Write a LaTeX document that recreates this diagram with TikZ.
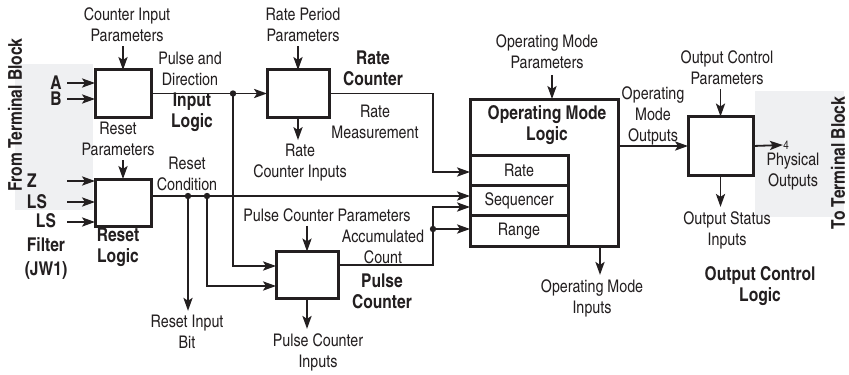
\documentclass[tikz,border=0pt]{standalone}
\usepackage{fontspec}
\setmainfont{texgyreheroscn}[Extension=.otf,UprightFont=*-regular,BoldFont=*-bold]
\usetikzlibrary{positioning,calc,arrows.meta}
\definecolor{termgray}{RGB}{239,240,242}
\definecolor{ink}{RGB}{35,31,32}

\begin{document}
\begin{tikzpicture}[x=0.5pt,y=-0.5pt, color=ink,
		blk/.style={draw, line width=1.5pt, outer sep=0pt, inner sep=0pt, minimum width=28pt, minimum height=23.5pt},
		cell/.style={draw, line width=1.5pt, outer sep=0pt, inner sep=0pt, minimum width=49pt, minimum height=15.2pt, font=\fontsize{8.7}{10.5}\selectfont},
		lbl/.style={align=center, inner sep=0pt, font=\fontsize{8.7}{10.5}\selectfont},
		blbl/.style={align=center, inner sep=0pt, font=\fontsize{9.5}{10.5}\selectfont\bfseries},
		conn/.style={line width=0.9pt, -{Stealth[length=6.5pt,width=4.6pt,inset=1.5pt]}},
		wire/.style={line width=0.9pt}]
		\useasboundingbox (0,0) rectangle (849,374);
		\fill[termgray] (15,64) rectangle (93,210);
		\fill[termgray] (755,91) rectangle (844,217);
		
		% blocks
		\node[blk] (inlog) at (123,93.5) {};
		\node[blk] (reslog) at (123,202.5) {};
		\node[blk, minimum width=31pt] (ratec) at (298,93.5) {};
		\node[blk, minimum width=31pt] (pulsec) at (307,275) {};
		\node[blk, minimum width=32.5pt, minimum height=29.5pt] (outc) at (720.5,146) {};
		\node[blk, minimum width=74pt, minimum height=73.5pt] (om) at (544,172.5) {};
		\node[cell, anchor=north west] (ratecell) at ($(om.north west)+(0,56)$) {Rate};
		\node[cell, below=0pt of ratecell] (seqcell) {Sequencer};
		\node[cell, below=0pt of seqcell] (rngcell) {Range};
		
		% texts
		\node[blbl, rotate=90] (ftb) at (15,115) {From Terminal Block};
		\node[blbl, rotate=90] (ttb) at (838,163) {To Terminal Block};
		\node[blbl] (a) at (56,83) {A};
		\node[blbl] (b) at (56,99) {B};
		\node[blbl] (z) at (32,181) {Z};
		\node[blbl] (ls) at (37,202) {LS};
		\node[blbl, font=\fontsize{9.5}{12}\selectfont\bfseries] (lsf) at (46,246) {LS\\Filter\\(JW1)};
		\node[lbl] (cip) at (127,25) {Counter Input\\Parameters};
		\node[lbl] (pad) at (190,69) {Pulse and\\Direction};
		\node[blbl] (inlbl) at (192,112) {Input\\Logic};
		\node[lbl] (rsp) at (118,139) {Reset\\Parameters};
		\node[lbl] (rsc) at (187,174) {Reset\\Condition};
		\node[blbl] (rslbl) at (118,247) {Reset\\Logic};
		\node[lbl] (rib) at (187,332) {Reset Input\\Bit};
		\node[lbl] (rpp) at (303,25) {Rate Period\\Parameters};
		\node[blbl] (rclbl) at (373,68) {Rate\\Counter};
		\node[lbl] (rm) at (375,122) {Rate\\Measurement};
		\node[lbl] (rci) at (300,163) {Rate\\Counter Inputs};
		\node[lbl] (pcp) at (327,215) {Pulse Counter Parameters};
		\node[lbl] (acc) at (383,247) {Accumulated\\Count};
		\node[blbl] (pclbl) at (382,291) {Pulse\\Counter};
		\node[lbl] (pci) at (318,352) {Pulse Counter\\Inputs};
		\node[lbl] (omp) at (547,52) {Operating Mode\\Parameters};
		\node[blbl] (omlbl) at (547,125) {Operating Mode\\Logic};
		\node[lbl] (omi) at (592,298) {Operating Mode\\Inputs};
		\node[lbl] (omo) at (653,116) {Operating\\Mode\\Outputs};
		\node[lbl] (ocp) at (727,68) {Output Control\\Parameters};
		\node[lbl] (osi) at (727,230) {Output Status\\Inputs};
		\node[blbl] (oclbl) at (760,286) {Output Control\\Logic};
		\node[lbl, font=\fontsize{6}{7}\selectfont] (four) at (786,145) {4};
		\node[lbl] (phy) at (793,172) {Physical\\Outputs};
		
		% free ends and junctions
		\coordinate (ain) at (67,83);
		\coordinate (bin) at (67,99);
		\coordinate (zin) at (67,181);
		\coordinate (lsin) at (67,202);
		\coordinate (lsfin) at (67,222);
		\coordinate (ompin) at (552,75);
		\coordinate (omiout) at (600,246);
		\coordinate (rmk) at (433,172);
		\coordinate (seqin) at (433,207);
		\coordinate (rcj1) at (188,196);
		\coordinate (rcj2) at (207,196);
		\coordinate (pdj) at (233,93.5);
		\coordinate (acj) at (433,229);
		
		\draw[conn] (ain) -- (ain -| inlog.west);
		\draw[conn] (bin) -- (bin -| inlog.west);
		\draw[conn] (zin) -- (zin -| reslog.west);
		\draw[conn] (lsin) -- (lsin -| reslog.west);
		\draw[conn] (lsfin) -- (lsfin -| reslog.west);
		
		\draw[conn, shorten <=2pt] (inlog.north |- cip.south) -- (inlog.north);
		\draw[conn, shorten <=2pt] (reslog.north |- rsp.south) -- (reslog.north);
		\draw[conn, shorten <=2pt] (ratec.north |- rpp.south) -- (ratec.north);
		\draw[conn, shorten <=2pt] (pulsec.north |- pcp.south) -- (pulsec.north);
		\draw[conn] (ompin) -- (ompin |- om.north);
		\draw[conn, shorten <=2pt] (outc.north |- ocp.south) -- (outc.north);
		
		\draw[conn, shorten >=2pt] (ratec.south) -- (ratec.south |- rci.north);
		\draw[conn, shorten >=2pt] (pulsec.south) -- (pulsec.south |- pci.north);
		\draw[conn, shorten >=2pt] (omiout) -- (omiout |- omi.north);
		\draw[conn, shorten >=2pt] (outc.south) -- (outc.south |- osi.north);
		
		\draw[conn] (inlog.east) -- (ratec.west);
		\draw[conn] (pdj) |- ([yshift=4.5pt]pulsec.west);
		\draw[wire] (reslog.east |- rcj1) -- (rcj1);
		\draw[conn] (rcj1) -- (rcj1 -| om.west);
		\draw[conn, shorten >=2pt] (rcj1) -- (rcj1 |- rib.north);
		\draw[conn] (rcj2) |- ([yshift=-5.5pt]pulsec.west);
		\draw[conn] (ratec.east) -| (rmk) -- (rmk -| om.west);
		\draw[conn] ([yshift=5pt]pulsec.east) -| (seqin) -- (seqin -| om.west);
		\draw[conn] (acj) -- (acj -| om.west);
		\draw[conn] (om.east |- outc.west) -- (outc.west);
		\draw[conn] (outc.east) -- (four.west);
		
		\foreach \j in {pdj,rcj1,rcj2,acj}
			\fill (\j) circle (1.6pt);
	\end{tikzpicture}
\end{document}
